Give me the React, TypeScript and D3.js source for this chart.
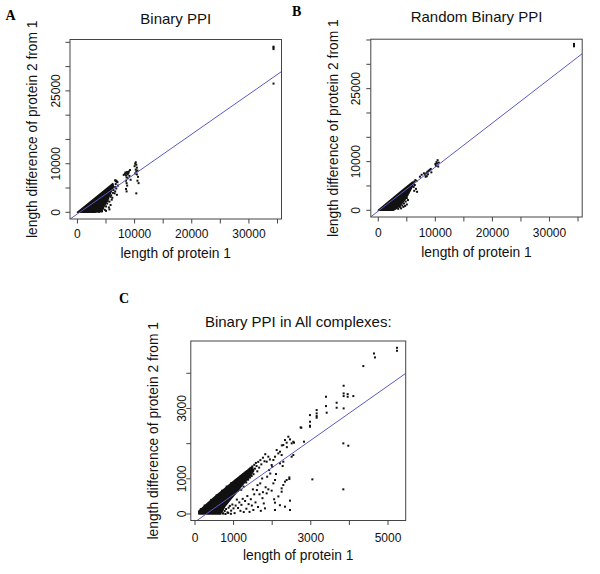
import React from "react";
import * as d3 from "d3";

type Pt = [number, number];

const FONT = "'Liberation Sans', Arial, Helvetica, sans-serif";
const SERIF = "'Liberation Serif', 'Times New Roman', serif";

// ---------- text ----------
const xAxisTitle = "length of protein 1";
const yAxisTitle = "length difference of protein 2 from 1";
const titleA = "Binary PPI";
const titleB = "Random Binary PPI";
const titleC = "Binary PPI in All complexes:";

// ---------- ticks ----------
const bigTicks = [0, 5000, 10000, 15000, 20000, 25000, 30000, 35000];
const bigXLabels = [0, 10000, 20000, 30000];
const bigYLabels = [0, 10000, 25000];
const cXTicks = [0, 1000, 2000, 3000, 4000, 5000];
const cXLabels = [0, 1000, 3000, 5000];
const cYTicks = [0, 1000, 2000, 3000, 4000];
const cYLabels = [0, 1000, 3000];

// ---------- fitted lines [intercept, slope] ----------
const fitA: Pt = [-330, 0.821];
const fitB: Pt = [-157, 0.905];
const fitC: Pt = [-224, 0.7734];

// ---------- saturated point clouds (outline of the solid region) ----------
const coreA: Pt[] = [
  [0, 0], [2000, 1900], [4000, 3800], [6200, 5900], [6300, 5300], [5900, 4300],
  [5500, 3200], [5000, 2000], [4500, 900], [4200, 150], [3000, 0],
];
const coreB: Pt[] = [
  [0, 0], [2000, 1950], [4000, 3880], [6000, 5800], [6100, 5300], [5700, 4300],
  [5200, 3200], [4600, 2100], [3900, 1100], [3200, 400], [2600, 0],
];
const coreC: Pt[] = [
  [100, 0], [100, 80], [500, 470], [1000, 930], [1250, 1150], [1480, 1340],
  [1520, 1230], [1400, 1040], [1230, 830], [1060, 600], [920, 420], [780, 230],
  [700, 70], [640, 0],
];

// ---------- individual points ----------
const pointsA: Pt[] = [
  [34300, 33600], [34300, 33900], [34300, 34100], [34300, 26500],
  [6600, 6600], [6700, 6400], [6800, 6500], [6900, 6300], [7000, 6200], [6700, 5800],
  [6600, 5200], [6800, 4900], [6600, 4300], [6500, 3900], [6900, 3600], [7100, 5500],
  [8100, 7700], [8300, 7900], [8400, 8200], [8500, 7600], [8600, 8000], [8700, 8300],
  [8800, 7800], [8900, 8100], [9000, 8400], [9200, 8700], [8600, 7200], [8500, 6500],
  [8600, 6000], [8700, 5500], [8500, 4800], [8600, 4300], [8800, 7000], [9100, 7500],
  [9300, 6700], [10000, 9500], [10100, 10000], [10200, 10300], [10300, 9800],
  [10400, 9200], [10200, 8800], [10300, 8400], [10500, 8600], [10600, 7300],
  [10500, 6500], [10700, 6000], [10300, 3900], [10400, 7800], [10100, 8000],
  [4200, 400], [4500, 800], [4800, 500], [5000, 1200], [5200, 1800], [5500, 1000],
  [5600, 2200], [5800, 1500], [6000, 2600], [6100, 3000], [5900, 3500], [5400, 2800],
  [4700, 1600], [4400, 1200], [6200, 4000], [6300, 4600], [5000, 300], [5600, 600],
  [3800, 100], [4000, 600], [4300, 200], [5300, 2300], [5800, 3200],
];
const pointsB: Pt[] = [
  [34300, 33700], [34300, 33950], [34300, 34200],
  [6200, 5600], [6300, 5900], [6500, 6200], [6700, 6000], [6400, 5200], [6200, 4800],
  [6600, 4400], [6300, 4000], [6800, 3800], [7300, 6900], [7600, 7300], [8000, 7600],
  [8200, 7300], [8400, 7600], [8600, 7900], [8800, 8100], [9000, 8300], [9200, 8500],
  [8300, 6900], [8500, 7000], [9300, 7800], [8700, 7400],
  [10000, 9500], [10200, 9900], [10400, 10300], [10100, 9100], [10500, 9000],
  [10300, 9600], [10600, 9800],
  [3800, 700], [4200, 1000], [4500, 1400], [4400, 700], [4800, 1800], [5000, 1200],
  [5200, 2100], [4700, 900], [5000, 2500], [3500, 300], [4000, 400],
];
const pointsC: Pt[] = [
  // edge of the dense core
  [150, 140], [250, 240], [420, 400], [560, 530], [700, 660], [820, 780], [940, 880],
  [660, 10], [720, 20], [790, 0], [860, 30], [930, 5],
  // upper band 1000-1700
  [1015, 905], [1032, 812], [1047, 948], [1063, 731], [1078, 884], [1096, 990],
  [1104, 655], [1121, 838], [1137, 1021], [1149, 762], [1166, 917], [1183, 1074],
  [1197, 688], [1214, 851], [1228, 1003], [1246, 1128], [1259, 779], [1276, 962],
  [1293, 1172], [1305, 1063], [1327, 897], [1343, 1214], [1362, 1117], [1378, 975],
  [1394, 1262], [1408, 1152], [1427, 1038], [1439, 1311], [1455, 1196], [1468, 1082],
  [1486, 1352], [1503, 1247], [1517, 1133], [1536, 1398], [1553, 1289], [1577, 1452],
  [1596, 1362], [1614, 1213], [1638, 1481], [1662, 1318], [1694, 1532], [1718, 1411],
  // below the line 700-2100
  [735, 15], [768, 85], [805, 140], [842, 45], [871, 180], [903, 230], [936, 95],
  [968, 270], [997, 160], [1026, 25], [1052, 240], [1084, 410], [1115, 170],
  [1148, 330], [1177, 90], [1203, 260], [1236, 430], [1263, 55], [1298, 370],
  [1331, 150], [1356, 510], [1388, 280], [1413, 60], [1446, 420], [1472, 240],
  [1511, 114], [1534, 560], [1567, 330], [1603, 680], [1632, 200], [1671, 560],
  [1705, 90], [1748, 450], [1782, 300],
  [1500, 700], [1620, 820], [1690, 870], [1740, 1010], [1760, 620], [1813, 160],
  [1830, 760], [1857, 587], [1870, 1060], [1900, 701], [1920, 1250], [1950, 1150],
  [1986, 663], [2000, 1340], [2030, 871], [2050, 420], [2073, 966], [2073, 322],
  [2073, 114], [2098, 1136],
  // upper right sparse 1700-2600
  [1760, 1600], [1800, 1500], [1820, 1700], [1857, 1487], [1900, 1629], [1940, 1550],
  [1986, 1392], [2030, 1534], [2073, 1629], [2116, 1818], [2159, 1723], [2202, 1771],
  [2202, 1439], [2245, 1676], [2271, 1364], [2288, 1487], [2288, 1960], [2332, 2102],
  [2375, 2027], [2418, 2197], [2461, 2121], [2505, 2008], [2548, 1676], [2504, 1629],
  [2565, 2027], [2380, 1900], [2250, 1950], [2547, 2054],
  // lower right 2100-2500
  [2245, 634], [2245, 729], [2288, 824], [2332, 919], [2375, 966], [2444, 994],
  [2444, 1040], [2461, 379], [2461, 114], [2332, 208], [2160, 500], [2200, 250],
  // far right
  [2737, 2462], [2754, 2452], [2824, 2055], [2979, 2812], [2979, 2623], [2979, 2509],
  [2979, 2481], [3152, 2955], [3152, 2860], [3152, 2784], [3152, 2737], [3040, 985],
  [3394, 3333], [3394, 3068], [3412, 2879], [3670, 3163], [3670, 3021], [3851, 3646],
  [3851, 3428], [3851, 3352], [3955, 3409], [3955, 3333], [4102, 3352], [3851, 3002],
  [3843, 2008], [3972, 1941], [3843, 701], [4361, 4205], [4637, 4564], [4663, 4451],
  [5233, 4725], [5233, 4640],
];

interface PanelCfg {
  id: string;
  letter: string;
  letterX: number;
  letterY: number;
  title: string;
  titleY: number;
  box: { left: number; right: number; top: number; bottom: number };
  xDomain: Pt;
  yDomain: Pt;
  xTicks: number[];
  xLabels: number[];
  yTicks: number[];
  yLabels: number[];
  core: Pt[];
  points: Pt[];
  fit: Pt;
  xLabelDy: number;
  xTitleDy: number;
  yLabelDx: number;
  yTitleDx: number;
}

const panels: PanelCfg[] = [
  {
    id: "A", letter: "A", letterX: 5.5, letterY: 20, title: titleA, titleY: 24,
    box: { left: 70, right: 281.5, top: 39.5, bottom: 219 },
    xDomain: [-1300, 35700], yDomain: [-1380, 35580],
    xTicks: bigTicks, xLabels: bigXLabels, yTicks: bigTicks, yLabels: bigYLabels,
    core: coreA, points: pointsA, fit: fitA,
    xLabelDy: 19.3, xTitleDy: 39.3, yLabelDx: -10, yTitleDx: -33,
  },
  {
    id: "B", letter: "B", letterX: 292, letterY: 16, title: titleB, titleY: 22,
    box: { left: 370.8, right: 582.2, top: 39.2, bottom: 217 },
    xDomain: [-1310, 35735], yDomain: [-1377, 35160],
    xTicks: bigTicks, xLabels: bigXLabels, yTicks: bigTicks, yLabels: bigYLabels,
    core: coreB, points: pointsB, fit: fitB,
    xLabelDy: 19.5, xTitleDy: 39.5, yLabelDx: -10.8, yTitleDx: -33.3,
  },
  {
    id: "C", letter: "C", letterX: 119, letterY: 303, title: titleC, titleY: 326.7,
    box: { left: 190.8, right: 405.7, top: 341, bottom: 520.5 },
    xDomain: [-109, 5459], yDomain: [-185, 4918],
    xTicks: cXTicks, xLabels: cXLabels, yTicks: cYTicks, yLabels: cYLabels,
    core: coreC, points: pointsC, fit: fitC,
    xLabelDy: 21, xTitleDy: 39.5, yLabelDx: -4.5, yTitleDx: -33.3,
  },
];

const AXIS = "#444";
const INK = "#111";
const FIT = "#5a5ac8";

function Panel({ cfg }: { cfg: PanelCfg }) {
  const { box } = cfg;
  const x = d3.scaleLinear().domain(cfg.xDomain).range([box.left, box.right]);
  const y = d3.scaleLinear().domain(cfg.yDomain).range([box.bottom, box.top]);
  const cx = (box.left + box.right) / 2;
  const cy = (box.top + box.bottom) / 2;
  const corePath = d3.line<Pt>().x((d) => x(d[0])).y((d) => y(d[1]))(cfg.core) + "Z";
  const fitPts: Pt[] = cfg.xDomain.map((v) => [v, cfg.fit[0] + cfg.fit[1] * v] as Pt);
  const fitPath = d3.line<Pt>().x((d) => x(d[0])).y((d) => y(d[1]))(fitPts) || "";
  const clipId = `clip-${cfg.id}`;
  return (
    <g>
      <defs>
        <clipPath id={clipId}>
          <rect x={box.left} y={box.top} width={box.right - box.left} height={box.bottom - box.top} />
        </clipPath>
      </defs>
      <text x={cfg.letterX} y={cfg.letterY} fontFamily={SERIF} fontWeight="bold" fontSize={14} fill="#000">
        {cfg.letter}
      </text>
      <text x={cx} y={cfg.titleY} textAnchor="middle" fontFamily={FONT} fontSize={15} fill="#111">
        {cfg.title}
      </text>
      <g clipPath={`url(#${clipId})`}>
        <path d={corePath} fill={INK} stroke={INK} strokeWidth={1.6} strokeLinejoin="round" />
        {cfg.points.map((p, i) => (
          <rect key={i} x={x(p[0]) - 1} y={y(p[1]) - 1} width={2} height={2} fill={INK} />
        ))}
        <path d={fitPath} stroke={FIT} strokeWidth={1} fill="none" />
      </g>
      <rect x={box.left} y={box.top} width={box.right - box.left} height={box.bottom - box.top}
        fill="none" stroke={AXIS} strokeWidth={1} />
      {cfg.xTicks.map((t) => (
        <line key={"xt" + t} x1={x(t)} x2={x(t)} y1={box.bottom} y2={box.bottom + 4.5} stroke={AXIS} />
      ))}
      {cfg.yTicks.map((t) => (
        <line key={"yt" + t} x1={box.left - 4.5} x2={box.left} y1={y(t)} y2={y(t)} stroke={AXIS} />
      ))}
      {cfg.xLabels.map((t) => (
        <text key={"xl" + t} x={x(t)} y={box.bottom + cfg.xLabelDy} textAnchor="middle"
          fontFamily={FONT} fontSize={12} fill="#111">{t}</text>
      ))}
      {cfg.yLabels.map((t) => (
        <text key={"yl" + t} transform={`translate(${box.left + cfg.yLabelDx},${y(t)}) rotate(-90)`}
          textAnchor="middle" fontFamily={FONT} fontSize={12} fill="#111">{t}</text>
      ))}
      <text x={cx} y={box.bottom + cfg.xTitleDy} textAnchor="middle" fontFamily={FONT} fontSize={13.8} fill="#111">
        {xAxisTitle}
      </text>
      <text transform={`translate(${box.left + cfg.yTitleDx},${cy}) rotate(-90)`} textAnchor="middle"
        fontFamily={FONT} fontSize={13.8} fill="#111">
        {yAxisTitle}
      </text>
    </g>
  );
}

export default function App() {
  return (
    <svg width={600} height={574} viewBox="0 0 600 574"
      style={{ position: "absolute", left: 0, top: 0, background: "#fff", display: "block" }}>
      <rect x={0} y={0} width={600} height={574} fill="#fff" />
      {panels.map((p) => (
        <Panel key={p.id} cfg={p} />
      ))}
    </svg>
  );
}
